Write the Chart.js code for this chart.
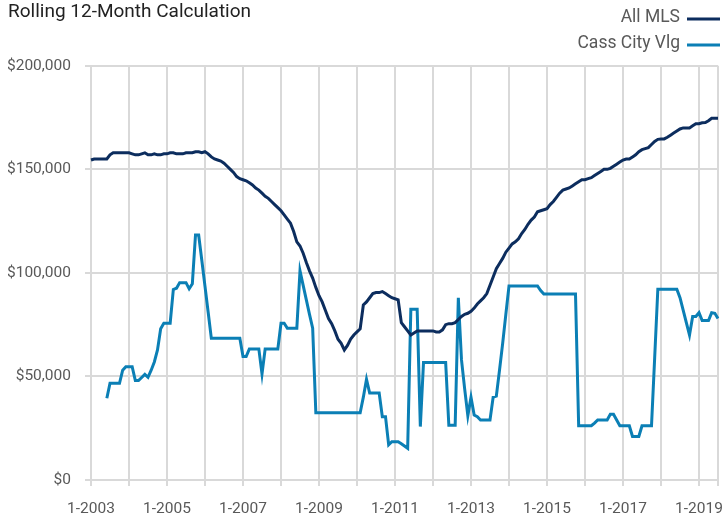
<!DOCTYPE html>
<html>
<head>
<meta charset="utf-8">
<script src="https://cdn.jsdelivr.net/npm/chart.js@4.4.1/dist/chart.umd.min.js"></script>
<style>
    body { margin: 0; background: #fff; }
    #wrap { width: 725px; height: 515px; position: relative; }
</style>
</head>
<body>
<div id="wrap"><canvas id="rollingChart"></canvas></div>
<script>
// monthly categories, 1-2003 .. 7-2019
let months = [];
for (let y = 2003; y <= 2019; y++) {
    for (let m = 1; m <= 12; m++) {
        if (months.length < 199) months.push(m + '-' + y);
    }
}

// values in thousands of dollars
let allMls = [
    154.5, 155, 155, 155, 155, 155, 157, 158, 158, 158, 158, 158,
    158, 157.5, 157, 157, 157.5, 158, 157, 157, 157.5, 157, 157, 157.5,
    157.5, 158, 158, 157.5, 157.5, 157.5, 158, 158, 158, 158.5, 158.5, 158,
    158.5, 157.5, 156, 155, 154.5, 154, 153, 151.5, 150, 148.5, 146.5, 145.5,
    145, 144.5, 143.5, 142.5, 141, 140, 138.5, 137, 136, 134.5, 133, 131.5,
    130, 128, 126, 124, 120, 115, 113, 109.5, 105, 101, 97.5, 93,
    89, 86, 82, 78, 75.5, 72, 68, 66, 62.8, 65, 68, 70,
    71.5, 73, 84.5, 86, 88, 90, 90.5, 90.5, 91, 90, 89, 88,
    87.5, 87, 76, 74, 72, 70, 71, 72, 72, 72, 72, 72,
    72, 71.5, 71.5, 72.5, 75, 75.5, 75.5, 76, 77.5, 79, 80, 80.5,
    81.5, 83, 85, 86.5, 88, 90, 94, 98, 102, 104.5, 107, 110,
    112, 114, 115, 116.5, 119, 121, 123.5, 125.5, 127, 129.5, 130, 130.5,
    131, 133, 134.5, 136.5, 138.5, 140, 140.5, 141, 142, 143, 144, 145,
    145, 145.5, 146, 147, 148, 149, 150, 150, 150.5, 151.5, 152.5, 153.5,
    154.5, 155, 155, 156, 157, 158.5, 159.5, 160, 160.5, 162, 163.5, 164.5,
    164.7, 164.7, 165.5, 166.5, 167.5, 168.5, 169.5, 170, 170, 170, 171, 172,
    172, 172.5, 172.6, 173.5, 174.7, 174.7, 174.7
];

let cassCity = [
    null, null, null, null, null, 39.5, 46.7, 46.7, 46.7, 46.7, 53, 54.7,
    54.7, 54.7, 48, 48, 49.5, 51, 49.6, 53, 57, 62.8, 73, 75.7,
    75.7, 75.7, 92, 92.6, 95.3, 95.3, 95.3, 92.3, 94.7, 118.3, 118.3, 106,
    93.5, 81, 68.4, 68.4, 68.4, 68.4, 68.4, 68.4, 68.4, 68.4, 68.4, 68.4,
    59.6, 59.6, 63.3, 63.3, 63.3, 63.3, 51.2, 63.3, 63.3, 63.3, 63.3, 63.3,
    75.7, 75.7, 73.3, 73.3, 73.3, 73.3, 101, 94, 87, 80, 73.3, 32.5,
    32.5, 32.5, 32.5, 32.5, 32.5, 32.5, 32.5, 32.5, 32.5, 32.5, 32.5, 32.5,
    32.5, 32.5, 40, 48.6, 42, 42, 42, 42, 30.6, 30.6, 17, 18.5,
    18.5, 18.5, 17.5, 16.4, 15.3, 82.4, 82.4, 82.4, 25.8, 56.7, 56.7, 56.7,
    56.7, 56.7, 56.7, 56.7, 56.7, 26.4, 26.4, 26.4, 88, 58, 44, 31,
    40, 31.4, 30.6, 29, 29, 29, 29, 40, 40.5, 53, 66, 80,
    93.7, 93.7, 93.7, 93.7, 93.7, 93.7, 93.7, 93.7, 93.7, 93.7, 91.5, 89.8,
    89.8, 89.8, 89.8, 89.8, 89.8, 89.8, 89.8, 89.8, 89.8, 89.8, 26.2, 26.2,
    26.2, 26.2, 26.2, 27.5, 29, 29, 29, 29, 31.7, 31.7, 29, 26.2,
    26.2, 26.2, 26.2, 21, 21, 21, 26.2, 26.2, 26.2, 26.2, 59, 92.1,
    92.1, 92.1, 92.1, 92.1, 92.1, 92.1, 88, 82, 76, 70, 79, 79,
    80.8, 77, 77, 77, 80.8, 80.5, 78
];

let yTicks = [0, 50, 100, 150, 200];

const FONT = "Roboto, 'Liberation Sans', sans-serif";
const GRID = '#d9d9d9';
Chart.defaults.font.family = FONT;
Chart.defaults.color = '#595959';

function isJanuary(i) {
    return months[i] && months[i].indexOf('1-') === 0;
}

// legend with text on the left and the line sample on the right
const sideLegend = {
    id: 'sideLegend',
    afterDraw(chart) {
        const ctx = chart.ctx;
        ctx.save();
        ctx.font = '17.5px ' + FONT;
        ctx.textAlign = 'right';
        ctx.textBaseline = 'middle';
        chart.data.datasets.forEach(function (ds, i) {
            let y = 18 + i * 26;
            ctx.fillStyle = '#595959';
            ctx.fillText(ds.label, 680, y);
            ctx.strokeStyle = ds.borderColor;
            ctx.lineWidth = 3;
            ctx.beginPath();
            ctx.moveTo(687, y + 1);
            ctx.lineTo(720, y + 1);
            ctx.stroke();
        });
        ctx.restore();
    }
};

let rollingChart = new Chart(document.getElementById('rollingChart'), {
    type: 'line',
    data: {
        labels: months,
        datasets: [
            {
                label: 'All MLS',
                data: allMls,
                borderColor: '#0c2d5e',
                borderWidth: 3,
                pointRadius: 0,
                tension: 0,
                fill: false
            },
            {
                label: 'Cass City Vlg',
                data: cassCity,
                borderColor: '#0b7fb5',
                borderWidth: 3,
                pointRadius: 0,
                tension: 0,
                fill: false
            }
        ]
    },
    options: {
        responsive: true,
        maintainAspectRatio: false,
        animation: false,
        layout: {
            padding: { left: 8, right: 7, top: 0, bottom: 0 }
        },
        plugins: {
            legend: { display: false },
            tooltip: { enabled: false },
            title: {
                display: true,
                text: 'Rolling 12-Month Calculation',
                align: 'start',
                color: '#222222',
                font: { size: 19, weight: 'normal' },
                padding: { top: 1, bottom: 42 }
            }
        },
        scales: {
            x: {
                type: 'category',
                offset: false,
                grid: {
                    color: function (ctx) {
                        return (isJanuary(ctx.index) || ctx.index === months.length - 1) ? GRID : 'rgba(0,0,0,0)';
                    },
                    lineWidth: 2,
                    tickLength: 6
                },
                border: { display: true, color: GRID, width: 2 },
                ticks: {
                    autoSkip: false,
                    maxRotation: 0,
                    padding: 14,
                    font: { size: 15.5 },
                    callback: function (value, index) {
                        let parts = months[index].split('-');
                        return (parts[0] === '1' && parseInt(parts[1]) % 2 === 1) ? months[index] : '';
                    }
                },
                afterFit: function (scale) {
                    scale.height = 35;
                    scale.paddingLeft = 0;
                    scale.paddingRight = 0;
                }
            },
            y: {
                min: 0,
                max: 200,
                afterBuildTicks: function (scale) {
                    scale.ticks = yTicks.map(function (v) { return { value: v }; });
                },
                grid: { color: GRID, lineWidth: 2, tickLength: 6 },
                border: { display: true, color: GRID, width: 2 },
                ticks: {
                    padding: 14,
                    font: { size: 15.5 },
                    callback: function (value) {
                        return '$' + (value * 1000).toLocaleString('en-US');
                    }
                },
                afterFit: function (scale) { scale.width = 83; }
            }
        }
    },
    plugins: [sideLegend]
});
</script>
</body>
</html>
